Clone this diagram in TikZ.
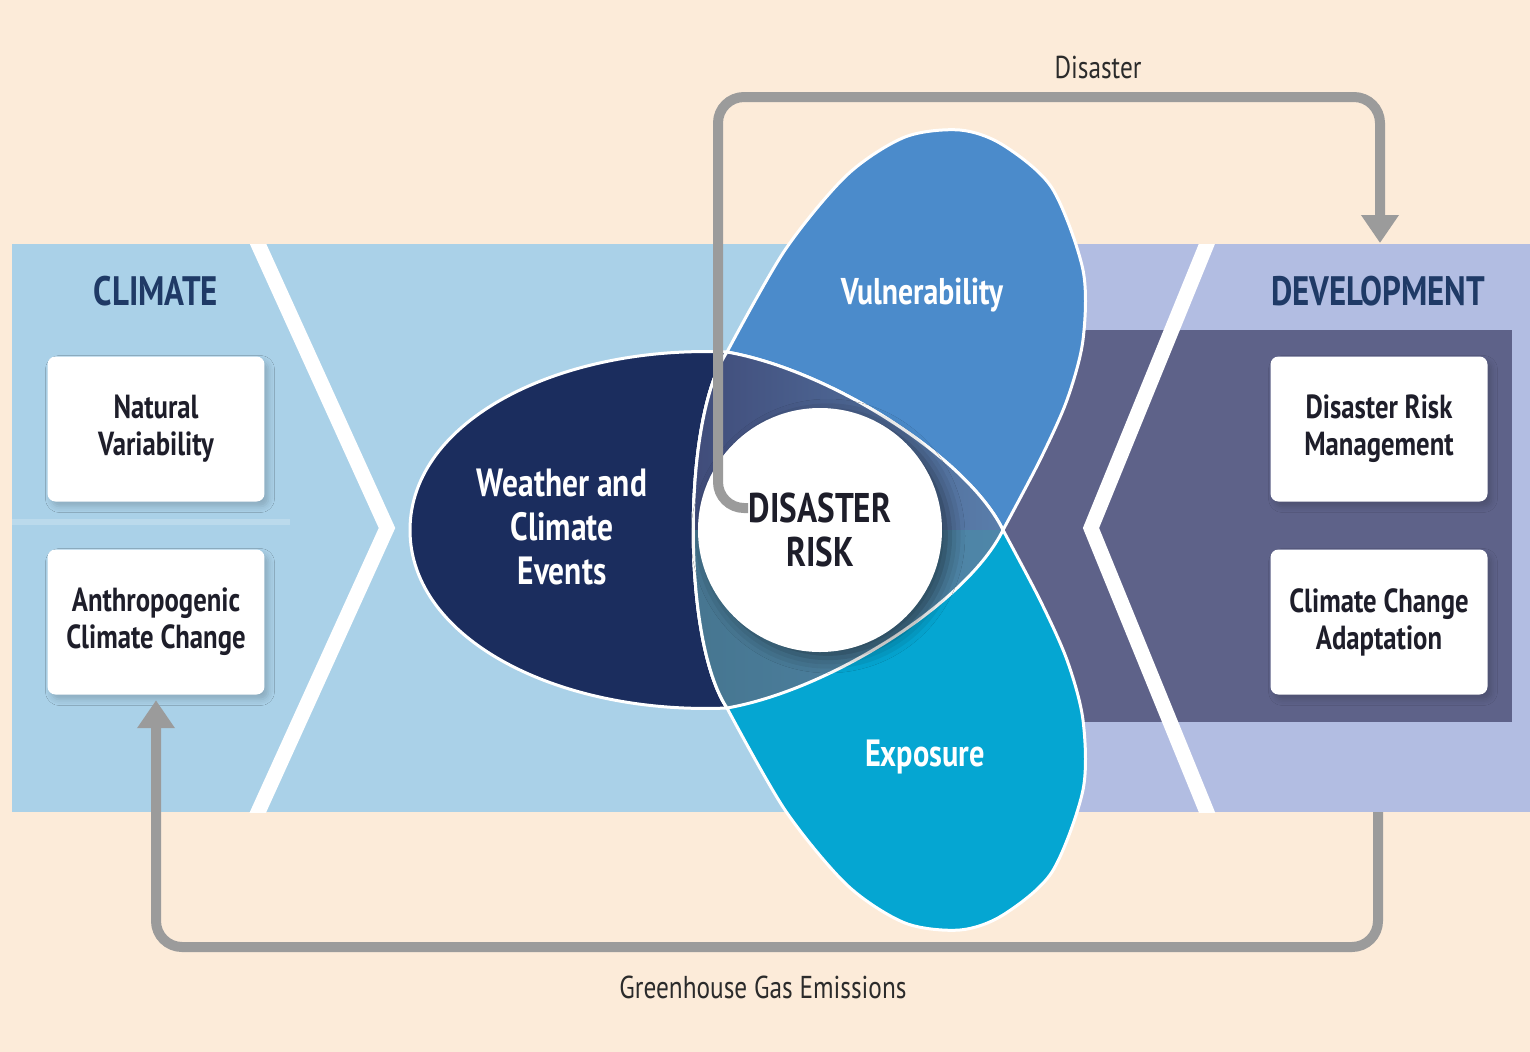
\documentclass[tikz,border=0pt]{standalone}
\usepackage{fontspec}
\setmainfont{PT Sans}[FakeStretch=0.8]
\usetikzlibrary{arrows.meta,shadows.blur}
\definecolor{peach}{HTML}{FCEBD9}
\definecolor{climband}{HTML}{AAD1E8}
\definecolor{devband}{HTML}{B2BDE2}
\definecolor{devdark}{HTML}{5E6289}
\definecolor{wcenavy}{HTML}{1B2D5E}
\definecolor{vulblue}{HTML}{4B8BCB}
\definecolor{expteal}{HTML}{05A6D2}
\definecolor{slateL}{HTML}{3F4A78}
\definecolor{slateR}{HTML}{5A7FAC}
\definecolor{steelL}{HTML}{46758F}
\definecolor{steelR}{HTML}{4F87AA}
\definecolor{arrowgray}{HTML}{9B9B9B}
\definecolor{headblue}{HTML}{1F3A66}
\definecolor{boxtext}{HTML}{1E1E2A}
\definecolor{labgray}{HTML}{2B2B2B}
\begin{document}
\begin{tikzpicture}[x=0.1mm,y=-0.1mm]
\tikzstyle{every node}=[inner sep=0pt, align=center]
\tikzstyle{box}=[fill=white, rounded corners=0.8mm, minimum width=21.7mm, minimum height=14.5mm, text=boxtext, font=\fontsize{9.5}{10.5}\selectfont\bfseries, blur shadow={shadow xshift=0.4mm, shadow yshift=-0.5mm, shadow blur radius=0.6mm, shadow opacity=18}]
\tikzstyle{head}=[text=headblue, font=\fontsize{11.7}{13}\selectfont\bfseries]
\tikzstyle{petal}=[text=white, font=\fontsize{11.2}{12.6}\selectfont\bfseries]
\tikzstyle{lab}=[text=labgray, font=\fontsize{9}{10}\selectfont]
\tikzstyle{chev}=[draw=white, line width=1.5mm]
\tikzstyle{rim}=[draw=white, line width=0.3mm]
\tikzstyle{flow}=[draw=arrowgray, line width=1mm, rounded corners=2.6mm, -{Triangle[width=3.6mm,length=2.8mm]}]
\useasboundingbox (0,0) rectangle (1530,1052);
\fill[peach] (0,0) rectangle (1530,1052);
% bands
\fill[climband] (12,244) rectangle (900,812);
\fill[devband] (900,244) rectangle (1530,812);
\fill[devdark] (950,330) rectangle (1512,722);
\draw[line width=0.6mm, white, opacity=0.2] (12,522) -- (290,522);
\begin{scope}
\clip (12,244) rectangle (1530,812);
\draw[chev] (249,224) -- (387,528) -- (249,832);
\draw[chev] (1215,224) -- (1091,528) -- (1215,832);
\end{scope}
\draw (156,429) node (nat) [box] {Natural\\Variability};
\draw (156,622) node (anth) [box] {Anthropogenic\\Climate Change};
\draw (1379,429) node (drm) [box] {Disaster Risk\\Management};
\draw (1379,622) node (cca) [box] {Climate Change\\Adaptation};
\draw (156,291) node (clim) [head] {CLIMATE};
\draw (1378,291) node (dev) [head] {DEVELOPMENT};
% petals
\coordinate (T) at (727,352);
\coordinate (B) at (727,708);
\coordinate (X) at (1003,530);
\filldraw[fill=wcenavy, rim] (T) .. controls (560,345) and (410,420) .. (410,530) .. controls (410,640) and (560,715) .. (B) .. controls (830,690) and (968,602) .. (X) .. controls (968,458) and (830,370) .. (T) -- cycle;
\filldraw[fill=vulblue, rim] plot[smooth] coordinates {(1003,530) (1040,460) (1067,400) (1083,340) (1083,270) (1052,188) (1003,145) (960,130) (905,137) (847,175) (785,250) (727,352)} .. controls (682,420) and (682,640) .. (B) .. controls (830,690) and (968,602) .. (X) -- cycle;
\filldraw[fill=expteal, rim] plot[smooth] coordinates {(1003,530) (1040,600) (1067,660) (1083,720) (1083,790) (1052,872) (1003,915) (960,930) (905,923) (847,885) (785,810) (727,708)} .. controls (682,640) and (682,420) .. (T) .. controls (830,370) and (968,458) .. (X) -- cycle;
\begin{scope}
\clip (T) .. controls (830,370) and (968,458) .. (X) .. controls (968,602) and (830,690) .. (B) .. controls (682,640) and (682,420) .. (T) -- cycle;
\fill[left color=slateL, right color=slateR] (680,340) rectangle (1010,530);
\fill[left color=steelL, right color=steelR] (680,530) rectangle (1010,720);
\end{scope}
\draw[rim] (T) .. controls (830,370) and (968,458) .. (X) .. controls (968,602) and (830,690) .. (B) .. controls (682,640) and (682,420) .. (T) -- cycle;
\draw (562,527) node (wce) [petal] {Weather and\\Climate\\Events};
\draw (922,295) node (vul) [petal, font=\fontsize{10.6}{12}\selectfont\bfseries] {Vulnerability};
\draw (925,757) node (exp) [petal, font=\fontsize{10.8}{12}\selectfont\bfseries] {Exposure};
\draw (820,530) node (risk) [circle, fill=white, minimum size=24.4mm, text=boxtext, font=\fontsize{11.8}{12.6}\selectfont\bfseries, blur shadow={shadow xshift=0.8mm, shadow yshift=-0.6mm, shadow blur radius=1.5mm, shadow opacity=45}] {DISASTER\\RISK};
% arrows
\coordinate (dstart) at (748,508);
\coordinate (dtop) at (718,97);
\coordinate (devtop) at (1380,243);
\coordinate (devbot) at (1378,812);
\coordinate (gbot) at (1378,947);
\draw[flow] (dstart) -| (dtop) -| (devtop);
\draw[flow, shorten >=0.5mm] (devbot) -- (gbot) -| (anth.south);
\draw (1098,67) node (dis) [lab] {Disaster};
\draw (763,987) node (ghg) [lab] {Greenhouse Gas Emissions};
\end{tikzpicture}
\end{document}
